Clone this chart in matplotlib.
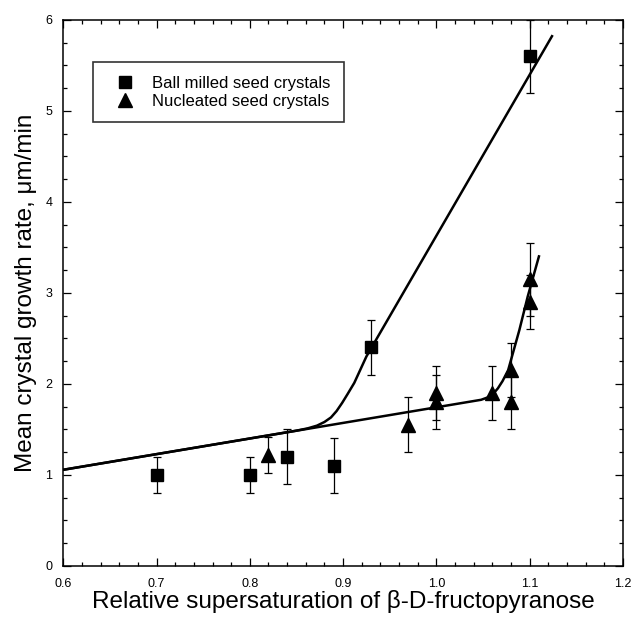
import matplotlib.pyplot as plt
from matplotlib.ticker import MultipleLocator

plt.rcParams["font.family"] = ["Liberation Sans", "DejaVu Sans"]

# measured growth rates, ball milled seed
ball_x = [0.70, 0.80, 0.84, 0.89, 0.93, 1.10]
ball_y = [1.00, 1.00, 1.20, 1.10, 2.40, 5.60]
ball_err = [0.20, 0.20, 0.30, 0.30, 0.30, 0.40]

# measured growth rates, nucleated seed
nuc_x = [0.82, 0.97, 1.00, 1.00, 1.06, 1.08, 1.08, 1.10, 1.10]
nuc_y = [1.22, 1.55, 1.90, 1.80, 1.90, 2.15, 1.80, 3.15, 2.90]
nuc_err = [0.20, 0.30, 0.30, 0.30, 0.30, 0.30, 0.30, 0.40, 0.30]

# fitted curves
ball_fit_x = [0.60, 0.85, 0.862, 0.872, 0.880, 0.887, 0.893, 0.899, 0.905, 0.912, 0.925, 1.124]
ball_fit_y = [1.055, 1.485, 1.510, 1.540, 1.580, 1.630, 1.700, 1.790, 1.890, 2.010, 2.300, 5.82]
nuc_fit_x = [0.60, 1.048, 1.055, 1.061, 1.066, 1.071, 1.077, 1.089, 1.098, 1.110]
nuc_fit_y = [1.055, 1.824, 1.850, 1.890, 1.950, 2.030, 2.150, 2.590, 2.960, 3.40]

fig = plt.figure(figsize=(6.33, 6.19), dpi=100)
ax = fig.add_axes([0.100, 0.086, 0.884, 0.882])

ax.plot(ball_fit_x, ball_fit_y, color="black", lw=1.8, zorder=2)
ax.plot(nuc_fit_x, nuc_fit_y, color="black", lw=1.8, zorder=2)

# error bars first, markers on top (markers alone go in the legend)
ax.errorbar(ball_x, ball_y, yerr=ball_err, fmt="none", ecolor="black",
            elinewidth=0.9, capsize=3, capthick=0.9, zorder=3)
ax.errorbar(nuc_x, nuc_y, yerr=nuc_err, fmt="none", ecolor="black",
            elinewidth=0.9, capsize=3, capthick=0.9, zorder=3)
ax.plot(ball_x, ball_y, "s", color="black", markersize=8.5,
        label="Ball milled seed crystals", zorder=4)
ax.plot(nuc_x, nuc_y, "^", color="black", markersize=9.5,
        label="Nucleated seed crystals", zorder=4)

ax.set_xlim(0.6, 1.2)
ax.set_ylim(0, 6)
ax.set_xticks([0.6, 0.7, 0.8, 0.9, 1.0, 1.1, 1.2])
ax.set_xticklabels(["0.6", "0.7", "0.8", "0.9", "1.0", "1.1", "1.2"])
ax.xaxis.set_minor_locator(MultipleLocator(0.02))
ax.yaxis.set_major_locator(MultipleLocator(1))
ax.yaxis.set_minor_locator(MultipleLocator(0.25))
ax.tick_params(which="both", direction="in", top=True, right=True,
               labelsize=9, width=0.9)
ax.tick_params(which="major", length=6)
ax.tick_params(which="minor", length=3)
ax.tick_params(axis="x", which="major", pad=9)
ax.tick_params(axis="y", which="major", pad=8)
for s in ax.spines.values():
    s.set_linewidth(1.1)

ax.set_xlabel("Relative supersaturation of β-D-fructopyranose",
              fontsize=17.5, labelpad=0)
ax.set_ylabel("Mean crystal growth rate, μm/min", fontsize=17.5, labelpad=6)

leg = ax.legend(loc="upper left", bbox_to_anchor=(0.053, 0.922),
                frameon=True, fancybox=False, fontsize=12,
                handletextpad=0.45, borderpad=0.8, borderaxespad=0,
                labelspacing=0.2, handlelength=2.3)
leg.get_frame().set_edgecolor("black")
leg.get_frame().set_linewidth(1.2)

fig.savefig("out.png", dpi=100)
